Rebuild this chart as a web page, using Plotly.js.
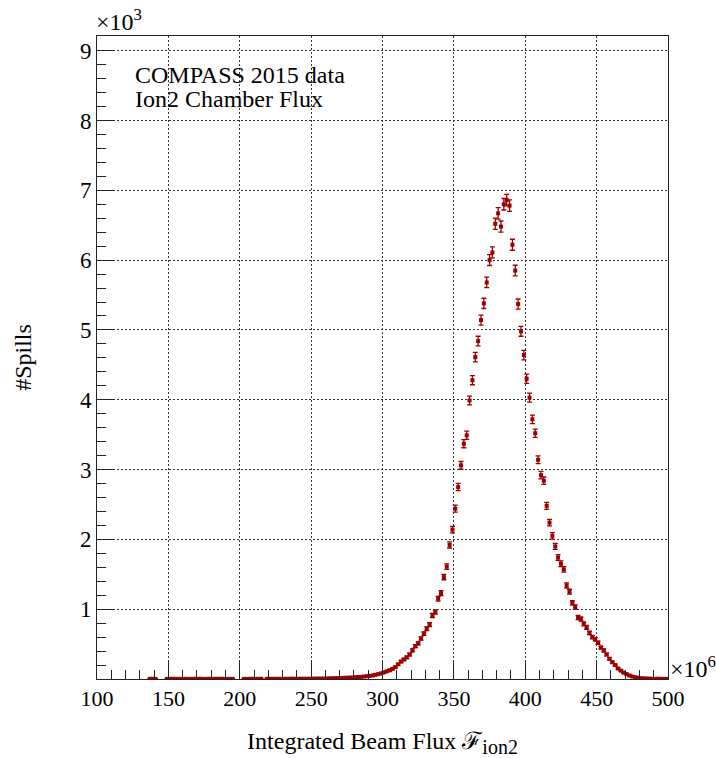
<!DOCTYPE html>
<html>
<head>
<meta charset="utf-8">
<script src="https://cdn.plot.ly/plotly-3.0.1.min.js"></script>
<style>html,body{margin:0;padding:0;background:#fff;}#plot{width:716px;height:758px;}</style>
</head>
<body>
<div id="plot"></div>
<script>
// Histogram: 200 bins of width 2 (x10^6) from 100 to 500; counts = #spills per bin (null = empty bin)
const binLow = 100;
const binWidth = 2;
const counts = [
  // 101 - 135
  null, null, null, null, null, null, null, null, null, null, null, null, null, null, null, null, null, null,
  // 137 - 199
  2, 3, 2, null, null, null, 1, 2, 3, 2, 1, 2, 3, 2, 1, 2, 4, 2, 3, 1, 2, 3, 2, 2, 3, 2, 3, 2, 1, 2, null, null,
  // 201 - 249
  null, 2, 1, 2, 3, 2, 2, 3, null, 2, 3, 2, 3, 2, 3, 3, 2, 3, 4, 3, 3, 4, 3, 4, 4,
  // 251 - 299
  5, 5, 6, 6, 7, 8, 9, 10, 12, 13, 14, 16, 18, 20, 22, 25, 28, 30, 35, 40, 45, 50, 60, 70, 80,
  // 301 - 349
  95, 110, 125, 145, 170, 210, 250, 280, 310, 350, 410, 470, 510, 580, 650, 720, 780, 910, 960, 1150, 1230, 1460, 1610, 1920, 2140,
  // 351 - 399
  2440, 2750, 3060, 3370, 3490, 3990, 4280, 4610, 4840, 5140, 5380, 5680, 6000, 6110, 6520, 6670, 6480, 6800, 6860, 6780, 6220, 5850, 5370, 4980, 4640,
  // 401 - 449
  4300, 4030, 3720, 3520, 3140, 2920, 2840, 2480, 2240, 2050, 1900, 1740, 1650, 1570, 1340, 1250, 1090, 1030, 880, 860, 790, 740, 660, 600, 570,
  // 451 - 499
  520, 450, 410, 350, 290, 240, 200, 150, 120, 90, 70, 50, 35, 25, 18, 12, 9, 7, 5, 4, 3, 3, 2, 2, 1
];
const xTickVals = [100, 150, 200, 250, 300, 350, 400, 450, 500];
const yTickVals = [1, 2, 3, 4, 5, 6, 7, 8, 9];
const legendLines = ["COMPASS 2015 data", "Ion2 Chamber Flux"];

const xs = [], ys = [], es = [];
counts.forEach((c, i) => {
  xs.push(binLow + binWidth * (i + 0.5));
  if (c === null) { ys.push(null); es.push(null); }
  else { ys.push(c / 1000); es.push(Math.sqrt(c) / 1000); }
});

const xMinor = [], yMinor = [];
for (let v = 100; v <= 500; v += 10) if (v % 50 !== 0) xMinor.push(v);
for (let k = 1; k <= 46; k++) if (k % 5 !== 0) yMinor.push(k / 5);

const red = '#9c0000';
const trace = {
  type: 'scatter', mode: 'markers', x: xs, y: ys,
  marker: {symbol: 'square', size: 4, color: red},
  error_y: {type: 'data', array: es, visible: true, color: red, thickness: 1.3, width: 2.5},
  error_x: {type: 'constant', value: binWidth / 2, visible: true, color: red, thickness: 1, width: 0},
  hoverinfo: 'x+y', showlegend: false
};

const serif = 'Liberation Serif, Times New Roman, serif';
const gridStyle = {gridcolor: '#333', gridwidth: 1, griddash: '2px,2px'};
const layout = {
  width: 716, height: 758,
  margin: {l: 97, r: 48, t: 36, b: 79},
  paper_bgcolor: '#fff', plot_bgcolor: '#fff',
  font: {family: serif, color: '#000', size: 22},
  xaxis: Object.assign({
    range: [100, 500], tickmode: 'array', tickvals: xTickVals,
    ticks: 'inside', ticklen: 18, tickwidth: 1, tickcolor: '#222',
    minor: {tickmode: 'array', tickvals: xMinor, ticks: 'inside', ticklen: 9, tickwidth: 1, tickcolor: '#222', showgrid: false},
    showline: true, linecolor: '#222', linewidth: 1, mirror: true, zeroline: false, showgrid: true,
    tickfont: {family: serif, size: 22},
    title: {text: 'Integrated Beam Flux ℱ<sub><span style="font-size:20px">ion2</span></sub>', font: {family: serif, size: 24}, standoff: 25}
  }, gridStyle),
  yaxis: Object.assign({
    range: [0, 9.21], tickmode: 'array', tickvals: yTickVals,
    ticks: 'inside', ticklen: 18, tickwidth: 1, tickcolor: '#222',
    minor: {tickmode: 'array', tickvals: yMinor, ticks: 'inside', ticklen: 9, tickwidth: 1, tickcolor: '#222', showgrid: false},
    showline: true, linecolor: '#222', linewidth: 1, mirror: true, zeroline: false, showgrid: true,
    tickfont: {family: serif, size: 23},
    title: {text: '#Spills', font: {family: serif, size: 24}, standoff: 41}
  }, gridStyle),
  annotations: [
    {xref: 'paper', yref: 'paper', x: 0, y: 1, xanchor: 'left', yanchor: 'bottom', xshift: -3, yshift: -1,
     text: '×10<sup>3</sup>', showarrow: false, font: {family: serif, size: 24}},
    {xref: 'paper', yref: 'paper', x: 1, y: 0, xanchor: 'left', yanchor: 'middle', xshift: 0, yshift: 12,
     text: '×10<sup>6</sup>', showarrow: false, font: {family: serif, size: 24}},
    {xref: 'paper', yref: 'paper', x: 0.063, y: 0.939, xanchor: 'left', yanchor: 'middle',
     text: legendLines[0], showarrow: false, font: {family: serif, size: 24}},
    {xref: 'paper', yref: 'paper', x: 0.063, y: 0.9025, xanchor: 'left', yanchor: 'middle',
     text: legendLines[1], showarrow: false, font: {family: serif, size: 24}}
  ]
};
Plotly.newPlot('plot', [trace], layout, {displayModeBar: false, staticPlot: true});
</script>
</body>
</html>
